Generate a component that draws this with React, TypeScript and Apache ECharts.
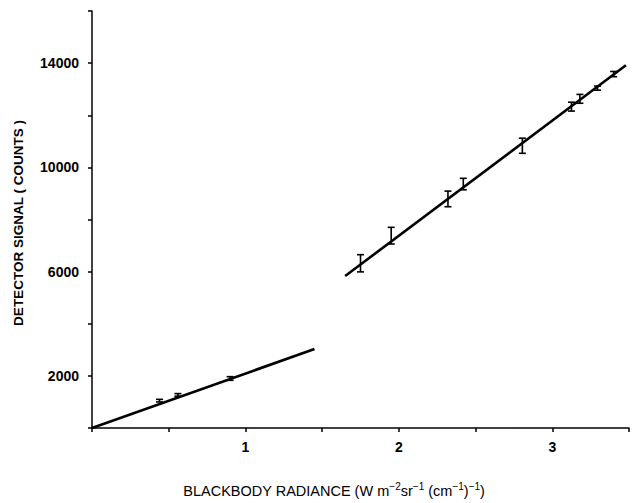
import React, { useEffect, useRef } from "react";
import * as echarts from "echarts";

// [radiance, signal, error half-height]
const lowPoints: number[][] = [
  [0.44, 1050, 50],
  [0.56, 1270, 50],
  [0.9, 1900, 70],
];
const highPoints: number[][] = [
  [1.75, 6320, 330],
  [1.95, 7380, 320],
  [2.32, 8790, 300],
  [2.42, 9360, 220],
  [2.805, 10830, 290],
  [3.125, 12330, 170],
  [3.18, 12630, 170],
  [3.295, 13040, 80],
  [3.4, 13580, 100],
];
const lowFit: number[][] = [
  [0, 0],
  [1.45, 3030],
];
const highFit: number[][] = [
  [1.65, 5830],
  [3.48, 13920],
];
const yLabels = [2000, 6000, 10000, 14000];
const xLabels = [1, 2, 3];

const xTitle = "BLACKBODY RADIANCE (W m{sup|\u22122}sr{sup|\u22121} (cm{sup|\u22121}){sup|\u22121})";
const yTitle = "DETECTOR SIGNAL ( COUNTS )";

const FONT = "'Liberation Sans', Arial, Helvetica, sans-serif";

export default function App() {
  const ref = useRef<HTMLDivElement>(null);
  useEffect(() => {
    document.body.style.margin = "0";
    if (!ref.current) return;
    const chart = echarts.init(ref.current, null, { renderer: "svg" });
    const errRender = (params: any, api: any) => {
      const x = api.value(0);
      const y = api.value(1);
      const e = api.value(2);
      const t = api.coord([x, y + e]);
      const b = api.coord([x, y - e]);
      const c = 3.5;
      const st = { stroke: "#000", lineWidth: 1.6 };
      return {
        type: "group",
        children: [
          { type: "line", shape: { x1: t[0], y1: t[1], x2: b[0], y2: b[1] }, style: st },
          { type: "line", shape: { x1: t[0] - c, y1: t[1], x2: t[0] + c, y2: t[1] }, style: st },
          { type: "line", shape: { x1: b[0] - c, y1: b[1], x2: b[0] + c, y2: b[1] }, style: st },
        ],
      };
    };
    chart.setOption({
      animation: false,
      backgroundColor: "#fff",
      grid: { left: 92, right: 1, top: 11, bottom: 75, containLabel: false },
      xAxis: {
        type: "value",
        min: 0,
        max: 3.5,
        interval: 0.5,
        axisLine: { lineStyle: { color: "#000", width: 1.5 } },
        axisTick: { show: true, length: 4, lineStyle: { color: "#000", width: 1.5 } },
        axisLabel: {
          color: "#000",
          fontFamily: FONT,
          fontWeight: "bold",
          fontSize: 14,
          margin: 12,
          formatter: (v: number) => (xLabels.includes(v) ? String(v) : ""),
        },
        splitLine: { show: false },
      },
      yAxis: {
        type: "value",
        min: 0,
        max: 16000,
        interval: 2000,
        axisLine: { show: true, lineStyle: { color: "#000", width: 1.5 } },
        axisTick: { show: true, length: 4, lineStyle: { color: "#000", width: 1.5 } },
        axisLabel: {
          color: "#000",
          fontFamily: FONT,
          fontWeight: "bold",
          fontSize: 14,
          margin: 13,
          formatter: (v: number) => (yLabels.includes(v) ? String(v) : ""),
        },
        splitLine: { show: false },
      },
      graphic: [
        {
          type: "text",
          x: 18,
          y: 223,
          rotation: Math.PI / 2,
          style: {
            text: yTitle,
            fontFamily: FONT,
            fontWeight: "bold",
            fontSize: 13.5,
            fill: "#000",
            textAlign: "center",
            textVerticalAlign: "middle",
          },
        },
        {
          type: "text",
          x: 334,
          y: 491,
          style: {
            text: xTitle,
            fontFamily: FONT,
            fontSize: 14.5,
            lineHeight: 19,
            fill: "#000",
            textAlign: "center",
            textVerticalAlign: "middle",
            rich: {
              sup: {
                fontFamily: FONT,
                fontSize: 10,
                lineHeight: 18,
                verticalAlign: "top",
                fill: "#000",
              },
            },
          },
        },
      ],
      series: [
        {
          type: "line",
          data: lowFit,
          symbol: "none",
          lineStyle: { color: "#000", width: 2.6 },
        },
        {
          type: "line",
          data: highFit,
          symbol: "none",
          lineStyle: { color: "#000", width: 2.6 },
        },
        {
          type: "custom",
          renderItem: errRender,
          data: lowPoints,
          encode: { x: 0, y: 1 },
        },
        {
          type: "custom",
          renderItem: errRender,
          data: highPoints,
          encode: { x: 0, y: 1 },
        },
      ],
    });
    return () => chart.dispose();
  }, []);
  return <div ref={ref} style={{ width: 632, height: 503 }} />;
}
